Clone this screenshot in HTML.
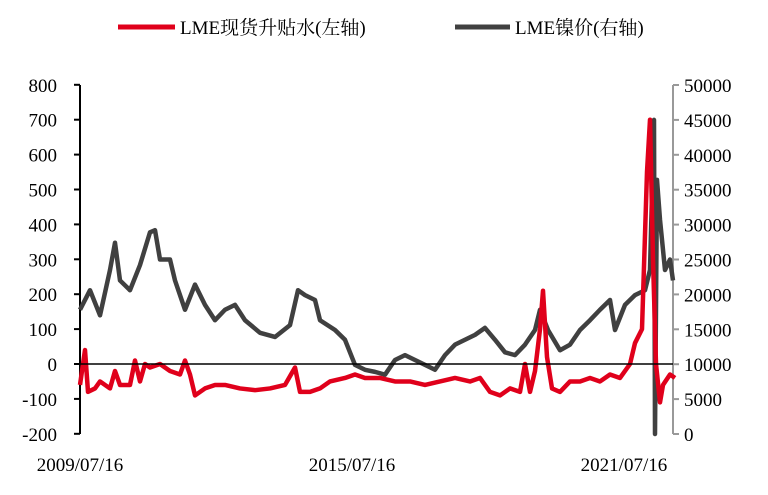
<!DOCTYPE html>
<html><head><meta charset="utf-8"><style>
body{margin:0;background:#fff;}
svg text{font-family:"Liberation Serif","Noto Serif CJK SC",serif;font-size:19px;fill:#000;}
</style></head><body>
<svg id="c" width="768" height="490"></svg>
<script>
const redX=[80,85,88,95,100,110,115,120,130,135,140,145,150,160,170,180,185,190,195,205,215,225,240,255,270,285,295,300,310,320,330,345,355,365,380,395,410,425,440,455,470,480,490,500,510,520,525,530,535,540,543,547,552,560,570,580,590,600,610,620,630,635,642,647,650,653,656,660,663,670,675];
const redV=[-60,40,-80,-70,-50,-70,-20,-60,-60,10,-50,0,-10,0,-20,-30,10,-30,-90,-70,-60,-60,-70,-75,-70,-60,-10,-80,-80,-70,-50,-40,-30,-40,-40,-50,-50,-60,-50,-40,-50,-40,-80,-90,-70,-80,0,-80,-20,100,210,20,-70,-80,-50,-50,-40,-50,-30,-40,0,60,100,550,700,300,0,-110,-60,-30,-40];
const niX=[80,90,100,110,115,120,130,140,150,155,160,170,175,185,195,205,215,225,235,245,260,275,290,298,305,315,320,335,345,355,365,375,385,395,405,415,425,435,445,455,465,475,485,495,505,515,525,535,540,548,560,570,580,590,600,610,615,625,635,645,650,654,655,657,660,665,670,673];
const niV=[17800,20600,17000,23500,27400,22000,20600,24200,28900,29200,25000,25000,22000,17800,21400,18500,16300,17800,18500,16300,14500,13900,15600,20600,19900,19200,16300,14900,13500,9900,9200,8900,8500,10600,11300,10600,9900,9200,11300,12800,13500,14200,15200,13500,11700,11300,12800,14900,17800,14900,12000,12800,14900,16300,17800,19200,14900,18500,19900,20600,23500,45000,0,36400,30700,23500,25000,22000];
const toYear=x=>2009.54+(x-80)/45.33;
const redT=redX.map(toYear), niT=niX.map(toYear);
const leftTicks=[800,700,600,500,400,300,200,100,0,-100,-200];
const rightTicks=[50000,45000,40000,35000,30000,25000,20000,15000,10000,5000,0];
const xLabels=["2009/07/16","2015/07/16","2021/07/16"], xLabelT=[2009.54,2015.54,2021.54];
const svg=document.getElementById('c'),NS='http://www.w3.org/2000/svg';
const X=t=>80+(t-2009.54)*45.33, YL=v=>364-v*0.349, YR=v=>434-v*349/50000;
function mk(tag,at,txt){const e=document.createElementNS(NS,tag);for(const k in at)e.setAttribute(k,at[k]);if(txt!=null)e.textContent=txt;svg.appendChild(e);return e;}
let e;
e=mk('line',{x1:80,y1:85,x2:80,y2:434,stroke:'#000','stroke-width':2});

leftTicks.forEach(v=>{const y=YL(v);mk('line',{x1:74,y1:y,x2:80,y2:y,stroke:'#000','stroke-width':2});
 e=mk('text',{x:57,y:y+7,'text-anchor':'end'},v);});
e=mk('line',{x1:673,y1:85,x2:673,y2:434,stroke:'#999','stroke-width':2});

rightTicks.forEach(v=>{const y=YR(v);mk('line',{x1:673,y1:y,x2:679,y2:y,stroke:'#999','stroke-width':2});
 e=mk('text',{x:684,y:y+7},v);});
xLabels.forEach((l,i)=>{e=mk('text',{x:X(xLabelT[i]),y:471,'text-anchor':'middle'},l);});
e=mk('polyline',{points:niT.map((t,i)=>X(t)+','+YR(niV[i])).join(' '),fill:'none',stroke:'#404040','stroke-width':4.5,'stroke-linejoin':'round'});

e=mk('polyline',{points:redT.map((t,i)=>X(t)+','+YL(redV[i])).join(' '),fill:'none',stroke:'#e0001b','stroke-width':4.5,'stroke-linejoin':'round'});

e=mk('line',{x1:80,y1:YL(0),x2:673,y2:YL(0),stroke:'#000','stroke-width':1.5});

e=mk('line',{x1:118,y1:27,x2:175,y2:27,stroke:'#e0001b','stroke-width':5});

e=mk('text',{x:180,y:34},'LME现货升贴水(左轴)');
e=mk('line',{x1:455,y1:27,x2:510,y2:27,stroke:'#404040','stroke-width':5});

e=mk('text',{x:515,y:34},'LME镍价(右轴)');
</script>
</body></html>
